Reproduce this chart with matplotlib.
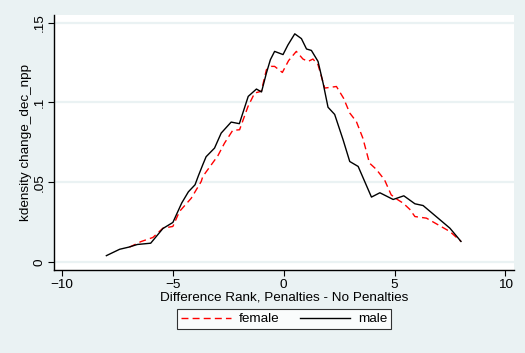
"""
Kernel density of the rank difference (penalties - no penalties), by gender.
Values read off the original Stata graph.
"""
import matplotlib
matplotlib.use("Agg")
import matplotlib.pyplot as plt

# female curve (red dashed)
female_x = [-6.96, -6.44, -5.9, -5.45, -5.0, -4.7, -4.17, -3.72, -3.65, -2.97,
            -2.67, -2.3, -1.99, -1.61, -1.31, -1.01, -0.78, -0.56, -0.41, -0.06,
            0.22, 0.57, 0.87, 1.10, 1.32, 1.55, 1.85, 2.38, 2.70, 2.98,
            3.28, 3.57, 3.87, 4.17, 4.55, 4.85, 5.15, 5.39, 5.69, 5.92,
            6.44, 6.97, 7.5, 8.0]
female_y = [0.0093, 0.0128, 0.0154, 0.0212, 0.0223, 0.0317, 0.0400, 0.0505, 0.0536, 0.0666,
            0.0745, 0.0825, 0.0829, 0.0975, 0.1059, 0.1070, 0.1205, 0.1226, 0.1226, 0.1188,
            0.1262, 0.1320, 0.1272, 0.1257, 0.1272, 0.1236, 0.1090, 0.1100, 0.1027, 0.0934,
            0.0880, 0.0777, 0.0620, 0.0582, 0.0515, 0.0421, 0.0390, 0.0369, 0.0330, 0.0285,
            0.0275, 0.0233, 0.0191, 0.0129]

# male curve (black solid)
male_x = [-8.0, -7.4, -7.0, -6.6, -6.0, -5.45, -5.0, -4.6, -4.3, -4.0,
          -3.85, -3.65, -3.5, -3.12, -2.82, -2.37, -2.0, -1.6, -1.23, -1.0,
          -0.78, -0.6, -0.41, -0.03, 0.19, 0.5, 0.8, 1.03, 1.25, 1.55,
          1.78, 2.0, 2.3, 2.68, 2.98, 3.36, 3.96, 4.34, 4.94, 5.42,
          5.92, 6.29, 7.05, 7.5, 8.0]
male_y = [0.0040, 0.0080, 0.0093, 0.0110, 0.0118, 0.0210, 0.0248, 0.0370, 0.0440, 0.0484,
          0.0540, 0.0610, 0.0660, 0.0714, 0.0808, 0.0877, 0.0867, 0.1038, 0.1084, 0.1066,
          0.1184, 0.1268, 0.1320, 0.1300, 0.1360, 0.1430, 0.1400, 0.1335, 0.1326, 0.1257,
          0.1120, 0.0970, 0.0925, 0.0766, 0.0630, 0.0599, 0.0407, 0.0434, 0.0392, 0.0415,
          0.0365, 0.0354, 0.0265, 0.0212, 0.0129]

x_ticks = [-10, -5, 0, 5, 10]
y_ticks = [0, 0.05, 0.1, 0.15]
y_tick_labels = ["0", ".05", ".1", ".15"]

BG = "#eaf2f3"


def main() -> None:
    plt.rcParams["font.family"] = ["Liberation Sans", "DejaVu Sans"]
    plt.rcParams["font.size"] = 9.7

    fig = plt.figure(figsize=(5.25, 3.53), dpi=100, facecolor=BG)
    ax = fig.add_axes([0.1034, 0.2351, 0.8756, 0.7224])
    ax.set_facecolor("white")

    ax.plot(female_x, female_y, color="red", linestyle=(0, (5, 3)), lw=1.0, label="female")
    ax.plot(male_x, male_y, color="black", linestyle="-", lw=1.0, label="male")

    ax.set_xlim(-10.35, 10.39)
    ax.set_ylim(-0.005, 0.1548)

    ax.set_xticks(x_ticks)
    ax.set_yticks(y_ticks)
    ax.set_yticklabels(y_tick_labels, rotation=90, va="center")
    ax.tick_params(direction="out", length=4, width=0.8, colors="black", pad=2.5)
    ax.grid(axis="y", color=BG, lw=1.6)
    ax.set_axisbelow(True)

    for side in ("top", "right"):
        ax.spines[side].set_visible(False)
    for side in ("left", "bottom"):
        ax.spines[side].set_linewidth(1.0)

    ax.set_xlabel("Difference Rank, Penalties - No Penalties", labelpad=0)
    ax.set_ylabel("kdensity change_dec_npp", labelpad=1)

    leg = fig.legend(loc="center", bbox_to_anchor=(0.541, 0.0963), ncol=2,
                     frameon=True, fancybox=False, edgecolor="black",
                     handlelength=3.7, handletextpad=0.6, columnspacing=1.5,
                     borderpad=0.3)
    leg.get_frame().set_linewidth(0.8)
    leg.get_frame().set_facecolor("white")

    fig.savefig("out.png", dpi=100, facecolor=BG)


if __name__ == "__main__":
    main()
